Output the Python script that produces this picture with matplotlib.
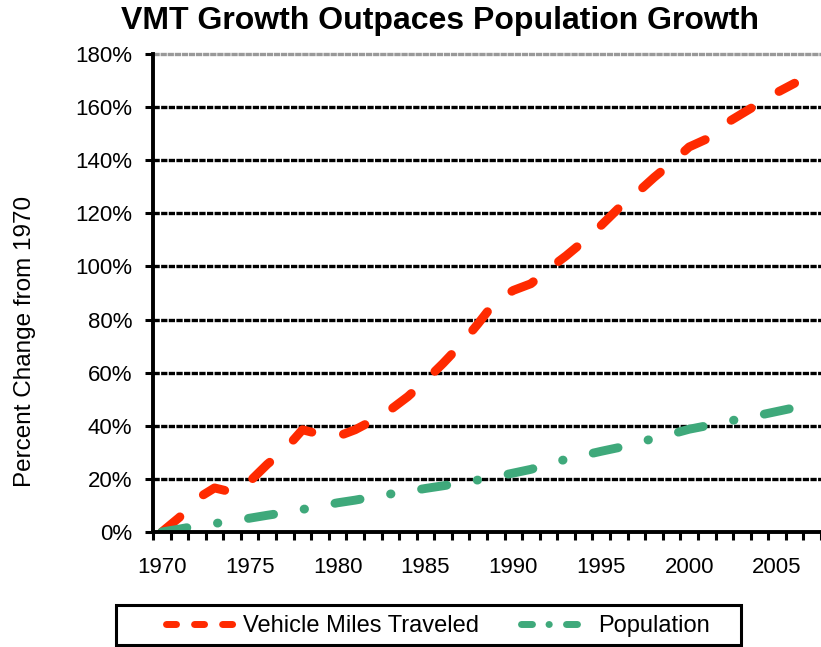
import matplotlib
matplotlib.use('Agg')
import matplotlib.pyplot as plt
from matplotlib.lines import Line2D
from matplotlib.patches import Rectangle
from matplotlib.ticker import FixedLocator, FuncFormatter

plt.rcParams['font.family'] = ['Liberation Sans', 'DejaVu Sans']
plt.rcParams['lines.scale_dashes'] = False

years = list(range(1970, 2007))
vmt = [0, 5.5, 12.5, 16.6, 15.0, 19.0, 25.5, 31.0, 38.5, 36.8,
       36.0, 38.5, 42.0, 46.0, 51.0, 57.0, 63.5, 70.5, 78.5, 87.0,
       91.0, 93.5, 99.0, 104.0, 109.5, 115.5, 122.0, 127.5, 133.5, 139.0,
       145.0, 148.0, 153.5, 157.5, 161.5, 165.5, 169.0]
population = [0, 1.1, 2.3, 3.2, 4.1, 5.2, 6.3, 7.3, 8.5, 9.7,
              11.0, 12.0, 13.2, 14.3, 15.3, 16.4, 17.4, 18.5, 19.6, 20.8,
              22.2, 23.6, 25.6, 27.4, 28.9, 30.4, 31.8, 33.6, 35.2, 36.9,
              38.7, 40.0, 41.4, 42.7, 44.0, 45.4, 46.8]
y_ticks = list(range(0, 181, 20))
x_labels = list(range(1970, 2006, 5))

title = "VMT Growth Outpaces Population Growth"
ylabel = "Percent Change from 1970"
series_names = ["Vehicle Miles Traveled", "Population"]

W, H = 821, 647
fig = plt.figure(figsize=(W / 100, H / 100), dpi=100)

# plot area in pixels
left, right, bottom, top = 153, 821, 532, 54
ax = fig.add_axes([left / W, 1 - bottom / H, (right - left) / W, (bottom - top) / H])
ax.set_xlim(1969.5, 2007.5)
ax.set_ylim(0, 180)

# gridlines
for v in y_ticks[1:-1]:
    ax.axhline(v, color='black', lw=2.4, dashes=(4.5, 1.0), zorder=1)
ax.axhline(180, color='#999999', lw=2.4, dashes=(4.5, 0.6), zorder=1, clip_on=False)

red = '#FF2A00'
green = '#3FA97B'
ax.plot(years, vmt, color=red, lw=6.4, dashes=(17.0, 23.3),
        dash_capstyle='round', zorder=3)
ax.plot(years, population, color=green, lw=6.4, dashes=(18.3, 22.3, 0.3, 22.3),
        dash_capstyle='round', zorder=3)

for s in ['top', 'right']:
    ax.spines[s].set_visible(False)
for s in ['left', 'bottom']:
    ax.spines[s].set_linewidth(2.8)
    ax.spines[s].set_zorder(4)

ax.yaxis.set_major_locator(FixedLocator(y_ticks))
ax.yaxis.set_major_formatter(FuncFormatter(lambda v, p: '%d%%' % v))
ax.tick_params(axis='y', direction='out', length=6, width=2.2, pad=9, labelsize=16)

ax.xaxis.set_major_locator(FixedLocator(x_labels))
ax.xaxis.set_minor_locator(FixedLocator([y + 0.5 for y in range(1969, 2008)]))
ax.tick_params(axis='x', which='major', length=0, pad=18, labelsize=16)
ax.tick_params(axis='x', which='minor', direction='out', length=6, width=2.2)

fig.text(440 / W, 1 - 21 / H, title, ha='center', va='center',
         fontsize=23, fontweight='bold')
fig.text(25 / W, 1 - 341 / H, ylabel, ha='center', va='center',
         rotation=90, fontsize=17.5)

# legend: shorter dash pattern for the keys, box drawn separately
handles = [
    Line2D([], [], color=red, lw=5.0, dashes=(7.2, 13.0), dash_capstyle='round'),
    Line2D([], [], color=green, lw=5.0, dashes=(7.9, 11.9, 0.2, 12.4), dash_capstyle='round'),
]
fig.legend(handles, series_names, loc='center', bbox_to_anchor=(438 / W, 1 - 626 / H),
           ncol=2, fontsize=17, handlelength=2.84, handletextpad=0.42,
           columnspacing=1.8, borderpad=0.3, borderaxespad=0, frameon=False)
fig.patches.append(Rectangle((116 / W, 1 - 645 / H), 625 / W, 40 / H,
                             transform=fig.transFigure, fill=False,
                             edgecolor='black', lw=2.2))

fig.savefig('out.png', dpi=100)
